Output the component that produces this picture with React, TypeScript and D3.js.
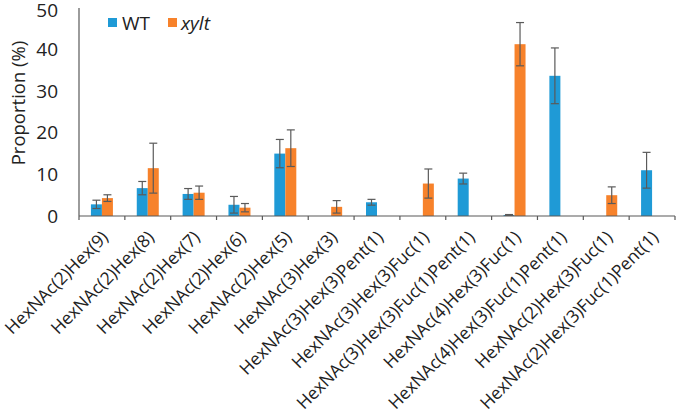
import React from "react";
import * as d3 from "d3";

const categories = [
  "HexNAc(2)Hex(9)",
  "HexNAc(2)Hex(8)",
  "HexNAc(2)Hex(7)",
  "HexNAc(2)Hex(6)",
  "HexNAc(2)Hex(5)",
  "HexNAc(3)Hex(3)",
  "HexNAc(3)Hex(3)Pent(1)",
  "HexNAc(3)Hex(3)Fuc(1)",
  "HexNAc(3)Hex(3)Fuc(1)Pent(1)",
  "HexNAc(4)Hex(3)Fuc(1)",
  "HexNAc(4)Hex(3)Fuc(1)Pent(1)",
  "HexNAc(2)Hex(3)Fuc(1)",
  "HexNAc(2)Hex(3)Fuc(1)Pent(1)",
];
const wtValues = [2.8, 6.7, 5.3, 2.7, 15.0, 0, 3.3, 0, 9.0, 0.25, 33.7, 0, 11.0];
const wtErrors = [1.0, 1.6, 1.3, 2.0, 3.4, 0, 0.7, 0, 1.3, 0.1, 6.7, 0, 4.3];
const xyltValues = [4.3, 11.5, 5.6, 2.0, 16.3, 2.2, 0, 7.8, 0, 41.3, 0, 5.0, 0];
const xyltErrors = [0.8, 6.0, 1.6, 1.0, 4.4, 1.5, 0, 3.5, 0, 5.2, 0, 2.0, 0];
const yTicks = [0, 10, 20, 30, 40, 50];

const WT_COLOR = "#1f9ad6";
const XY_COLOR = "#f7822b";
const ERR_COLOR = "#5a5a5a";
const FONT = "'Open Sans', sans-serif";

export default function App() {
  const W = 676, H = 418;
  const left = 79, right = 675, top = 8, bottom = 216;
  const x = d3.scaleBand<string>().domain(categories).range([left, right]).paddingInner(0).paddingOuter(0);
  const y = d3.scaleLinear().domain([0, 50]).range([bottom, top]);
  const bw = 11;
  const series = [
    { vals: wtValues, errs: wtErrors, color: WT_COLOR, off: -bw },
    { vals: xyltValues, errs: xyltErrors, color: XY_COLOR, off: 0 },
  ];
  const boundaries = d3.range(categories.length + 1).map((i) => left + i * x.bandwidth());
  return (
    <svg width={W} height={H} style={{ position: "absolute", left: 0, top: 0, background: "#fff" }}>
      {series.map((s, si) =>
        categories.map((c, i) => {
          const v = s.vals[i];
          if (v <= 0) return null;
          const cx = (x(c) as number) + x.bandwidth() / 2;
          const bx = cx + s.off;
          return (
            <rect key={`b${si}-${i}`} x={bx} y={y(v)} width={bw} height={bottom - y(v)} fill={s.color} />
          );
        })
      )}
      {series.map((s, si) =>
        categories.map((c, i) => {
          const v = s.vals[i];
          const e = s.errs[i];
          if (v <= 0) return null;
          const cx = (x(c) as number) + x.bandwidth() / 2 + s.off + bw / 2;
          const y1 = y(v + e), y2 = y(Math.max(0, v - e));
          return (
            <g key={`e${si}-${i}`} stroke={ERR_COLOR} strokeWidth={1.2}>
              <line x1={cx} x2={cx} y1={y1} y2={y2} />
              <line x1={cx - 4} x2={cx + 4} y1={y1} y2={y1} />
              <line x1={cx - 4} x2={cx + 4} y1={y2} y2={y2} />
            </g>
          );
        })
      )}
      <line x1={left} x2={left} y1={top} y2={bottom} stroke="#595959" strokeWidth={1.2} />
      <line x1={left} x2={right} y1={bottom} y2={bottom} stroke="#595959" strokeWidth={1.2} />
      {boundaries.map((bx, i) => (
        <line key={`t${i}`} x1={bx} x2={bx} y1={bottom} y2={bottom + 4} stroke="#595959" strokeWidth={1.2} />
      ))}
      {yTicks.map((t) => (
        <text key={`y${t}`} x={left - 21} y={Math.max(y(t), 10)} dy="0.35em" textAnchor="end" fontFamily={FONT} fontSize={19} fill="#222">
          {t}
        </text>
      ))}
      <text
        transform={`translate(25, 103) rotate(-90)`}
        textAnchor="middle"
        fontFamily={FONT}
        fontSize={18.5}
        fill="#222"
      >
        Proportion (%)
      </text>
      {categories.map((c) => {
        const cx = (x(c) as number) + x.bandwidth() / 2;
        return (
          <text
            key={`x${c}`}
            transform={`translate(${cx + 3}, ${bottom + 18}) rotate(-45)`}
            textAnchor="end"
            dy="0.35em"
            fontFamily={FONT}
            fontSize={17.5}
            fill="#222"
          >
            {c}
          </text>
        );
      })}
      <rect x={108} y={18} width={9} height={9} fill={WT_COLOR} />
      <text x={122} y={29.5} fontFamily={FONT} fontSize={19} fill="#222">WT</text>
      <rect x={168} y={18} width={9} height={9} fill={XY_COLOR} />
      <text x={181} y={29.5} fontFamily={FONT} fontSize={19} fontStyle="italic" fill="#222">xylt</text>
    </svg>
  );
}
